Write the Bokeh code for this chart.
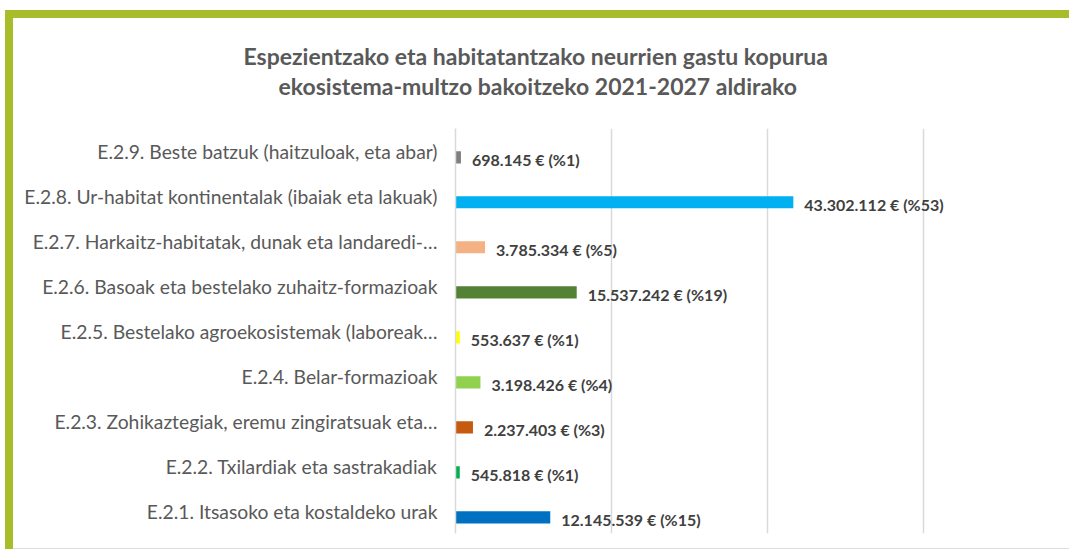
from bokeh.plotting import figure
from bokeh.models import ColumnDataSource, FactorRange, Range1d, FixedTicker, Title
from bokeh.transform import dodge
from bokeh.core.properties import value
from bokeh.embed import file_html
from bokeh.resources import INLINE

title_lines = ["Espezientzako eta habitatantzako neurrien gastu kopurua",
               "ekosistema-multzo bakoitzeko 2021-2027 aldirako"]

categories = [
    "E.2.1. Itsasoko eta kostaldeko urak",
    "E.2.2. Txilardiak eta sastrakadiak",
    "E.2.3. Zohikaztegiak, eremu zingiratsuak eta…",
    "E.2.4. Belar-formazioak",
    "E.2.5. Bestelako agroekosistemak (laboreak…",
    "E.2.6. Basoak eta bestelako zuhaitz-formazioak",
    "E.2.7. Harkaitz-habitatak, dunak eta landaredi-…",
    "E.2.8. Ur-habitat kontinentalak (ibaiak eta lakuak)",
    "E.2.9. Beste batzuk (haitzuloak, eta abar)",
]
values = [12145539, 545818, 2237403, 3198426, 553637, 15537242, 3785334, 43302112, 698145]
percents = [15, 1, 3, 4, 1, 19, 5, 53, 1]
colors = ["#0070C0", "#00B050", "#C55A11", "#92D050", "#FFFF00",
          "#548235", "#F4B183", "#00B0F0", "#7F7F7F"]
grid_ticks = [0, 20000000, 40000000, 60000000]

labels = [f"{v:,}".replace(",", ".") + " € (%" + str(pc) + ")" for v, pc in zip(values, percents)]

src = ColumnDataSource(dict(cat=categories, val=values, col=colors, lab=labels))

green = "#A9BC2A"
W, H = 1056, 539
p = figure(width=W, height=H, output_backend="svg", toolbar_location=None,
           y_range=FactorRange(*categories), x_range=Range1d(0, 78700000),
           min_border_left=442, min_border_right=0, min_border_top=110, min_border_bottom=24,
           styles={"margin-top": "10px", "margin-left": "13px",
                   "min-width": f"{W}px", "min-height": f"{H}px",
                   "border-top": f"8px solid {green}",
                   "box-shadow": f"-8px 0px 0px 0px {green}",
                   "border-bottom": "1px solid #DDDDDD"})
p.outline_line_color = None
p.background_fill_color = "white"
p.border_fill_color = "white"

ypos = dodge("cat", -0.14, range=p.y_range)
p.hbar(y=ypos, left=0, right="val", height=0.27, fill_color="col", line_color=None, source=src)
p.text(x="val", y=ypos, text="lab", source=src, x_offset=11, y_offset=2,
       text_baseline="middle", text_align="left", text_font=value("Lato"),
       text_font_size="16px", text_font_style="bold", text_color="#404040")

p.xaxis.visible = False
p.xgrid.ticker = FixedTicker(ticks=grid_ticks)
p.xgrid.grid_line_color = "#D9D9D9"
p.xgrid.grid_line_width = 1.5
p.ygrid.grid_line_color = None

p.yaxis.axis_line_color = "#D9D9D9"
p.yaxis.axis_line_width = 1.5
p.yaxis.major_tick_line_color = None
p.yaxis.minor_tick_line_color = None
p.yaxis.major_tick_out = 0
p.yaxis.major_label_standoff = 18
p.yaxis.major_label_text_font = "Lato"
p.yaxis.major_label_text_font_size = "19.3px"
p.yaxis.major_label_text_color = "#595959"

# title: spacer closest to the frame, then second line, then first line
p.add_layout(Title(text=" ", text_font_size="2px", standoff=25), "above")
p.add_layout(Title(text=title_lines[1], align="left", offset=-177, standoff=0,
                   text_font="Lato", text_font_size="23px", text_font_style="bold",
                   text_color="#595959"), "above")
p.add_layout(Title(text=title_lines[0], align="left", offset=-212, standoff=0,
                   text_font="Lato", text_font_size="23px", text_font_style="bold",
                   text_color="#595959"), "above")

open("out.html", "w").write(file_html(p, INLINE))
